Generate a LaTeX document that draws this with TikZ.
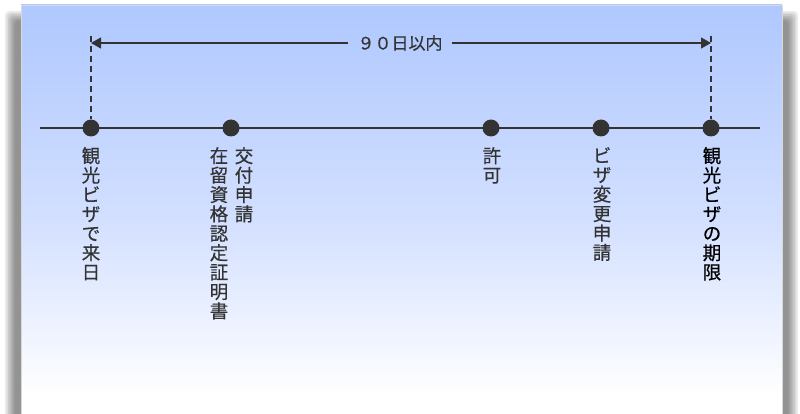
\documentclass[tikz,border=0pt]{standalone}
\usepackage{fontspec}
\setmainfont{Noto Sans CJK JP}
\newfontfamily\labfont{Noto Sans CJK JP}[FakeBold=0.5]
\usetikzlibrary{arrows.meta}
\definecolor{ink}{HTML}{333333}
\definecolor{topblue}{HTML}{AFC8FF}
\definecolor{midblue}{HTML}{D2DFFF}
\pgfdeclareverticalshading{panelsh}{100bp}{color(0bp)=(white); color(29bp)=(white); color(50bp)=(midblue); color(75bp)=(topblue); color(100bp)=(topblue)}
\tikzset{
  dot/.style={circle,fill=ink,inner sep=0pt,minimum size=17pt},
  vlabel/.style={anchor=north,align=center,inner sep=0pt,text=ink,font=\labfont\fontsize{18.5}{19.4}\selectfont},
  tline/.style={draw=ink,line width=1.2pt},
  dimline/.style={draw=ink,line width=1.2pt,-{Triangle[length=10pt,width=11pt]}},
  guide/.style={draw=ink,line width=1.2pt,dash pattern=on 6pt off 4pt},
  shad/.style={fill=black,opacity=0.075}
}
\begin{document}
\begin{tikzpicture}[x=1pt,y=-1pt]
\useasboundingbox (0,0) rectangle (800,414);
\fill[white] (0,0) rectangle (800,414);
% shadow
\foreach \i in {0,...,6} {
  \fill[shad,rounded corners=4pt] (5+1.6*\i,11+1.6*\i) rectangle (798-1.6*\i,440);
}
% panel
\path[shading=panelsh,draw=gray!30,line width=0.6pt] (21,5) rectangle (782,430);
% timeline
\coordinate (L) at (40,128);
\coordinate (R) at (760,128);
\draw[tline] (L) -- (R);
\node[dot] (d1) at (91,128) {};
\node[dot] (d2) at (231,128) {};
\node[dot] (d3) at (491,128) {};
\node[dot] (d4) at (601,128) {};
\node[dot] (d5) at (711,128) {};
% guides
\coordinate (g1) at (91,36);
\coordinate (g5) at (711,36);
\draw[guide] (g1) -- (d1.north);
\draw[guide] (g5) -- (d5.north);
% dimension
\coordinate (a1) at (91,43);
\coordinate (a5) at (711,43);
\node[text=ink,font=\labfont\fontsize{17}{19}\selectfont,inner xsep=9pt,inner ysep=2pt] (lab) at (400,43) {９０日以内};
\draw[dimline] (lab.west) -- (a1);
\draw[dimline] (lab.east) -- (a5);
% labels
\node[vlabel] (t1) at (91,147) {観\\光\\ビ\\ザ\\で\\来\\日};
\node[vlabel] (t2a) at (244,147) {交\\付\\申\\請};
\node[vlabel] (t2b) at (219,147) {在\\留\\資\\格\\認\\定\\証\\明\\書};
\node[vlabel] (t3) at (492,147) {許\\可};
\node[vlabel] (t4) at (602,147) {ビ\\ザ\\変\\更\\申\\請};
\node[vlabel,text=black] (t5) at (712,147) {観\\光\\ビ\\ザ\\の\\期\\限};
\end{tikzpicture}
\end{document}
